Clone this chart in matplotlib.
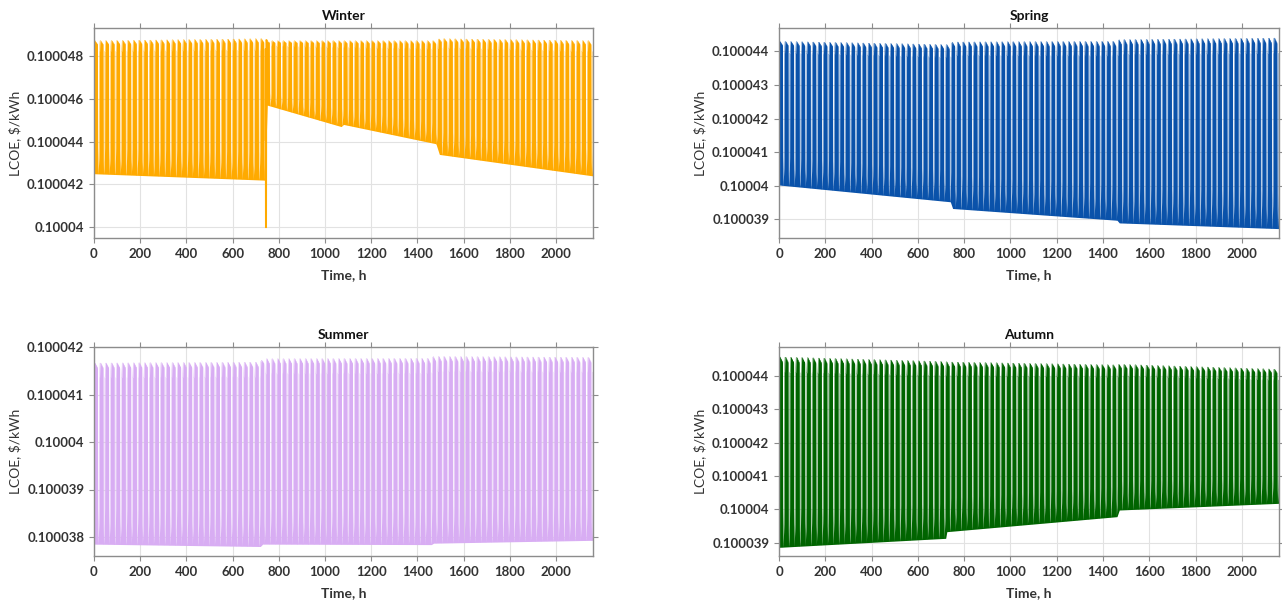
import numpy as np
import matplotlib
matplotlib.use("Agg")
import matplotlib.pyplot as plt

plt.rcParams['font.family'] = ['Lato', 'DejaVu Sans']

# hourly time axis for one season (90 days)
n_hours = 2160
hours = np.arange(n_hours)

# typical daily shape (0 = lower envelope, 1 = upper envelope)
day_shape = [0.92, 0.97, 1.0, 1.0, 1.0, 1.0, 1.0, 0.99, 0.99, 0.99, 0.99, 0.98,
             0.98, 0.98, 0.98, 0.97, 0.1, 0.0, 0.02, 0.05, 0.08, 0.12, 0.2, 0.92]

# envelope breakpoints (hour, value) per season
winter_bp_h = [0, 740, 750, 1070, 1080, 1480, 1495, 2159]
winter_hi = [0.1000487, 0.1000488, 0.1000487, 0.1000487, 0.1000487, 0.1000487, 0.1000488, 0.1000487]
winter_lo = [0.1000425, 0.1000422, 0.1000457, 0.1000447, 0.1000448, 0.1000439, 0.1000434, 0.1000424]
winter_dip_h = [744, 745]
winter_dip_v = [0.1000400, 0.1000400]

spring_bp_h = [0, 740, 750, 1460, 1470, 2159]
spring_hi = [0.1000443, 0.1000442, 0.10004428, 0.10004430, 0.10004435, 0.10004440]
spring_lo = [0.10004002, 0.10003952, 0.10003932, 0.10003897, 0.10003889, 0.10003872]

summer_bp_h = [0, 720, 730, 1460, 1470, 2159]
summer_hi = [0.10004166, 0.10004168, 0.10004175, 0.10004176, 0.1000418, 0.10004178]
summer_lo = [0.10003785, 0.1000378, 0.10003785, 0.10003784, 0.10003787, 0.10003793]

autumn_bp_h = [0, 720, 725, 1460, 1470, 2159]
autumn_hi = [0.10004457, 0.10004443, 0.10004442, 0.10004433, 0.10004435, 0.10004420]
autumn_lo = [0.10003886, 0.10003913, 0.10003933, 0.10003978, 0.10003998, 0.10004018]

seasons = ['Winter', 'Spring', 'Summer', 'Autumn']
colors = ['#FFAA00', '#0A52AA', '#D8ADF3', '#006400']
yticks = [
    [0.10004, 0.100042, 0.100044, 0.100046, 0.100048],
    [0.100039, 0.10004, 0.100041, 0.100042, 0.100043, 0.100044],
    [0.100038, 0.100039, 0.10004, 0.100041, 0.100042],
    [0.100039, 0.10004, 0.100041, 0.100042, 0.100043, 0.100044],
]
ylims = [(0.1000395, 0.1000493), (0.10003844, 0.1000447),
         (0.1000376, 0.100042), (0.1000386, 0.10004487)]
xticks = list(range(0, 2001, 200))


def build(bp_h, hi, lo):
    upper = np.interp(hours, bp_h, hi)
    lower = np.interp(hours, bp_h, lo)
    shape = np.array(day_shape)[hours % 24]
    return lower + shape * (upper - lower), lower


data = [build(winter_bp_h, winter_hi, winter_lo),
        build(spring_bp_h, spring_hi, spring_lo),
        build(summer_bp_h, summer_hi, summer_lo),
        build(autumn_bp_h, autumn_hi, autumn_lo)]
data[0][0][winter_dip_h] = winter_dip_v

W, H = 1282, 607
fig = plt.figure(figsize=(W / 100, H / 100), dpi=100)
boxes = [(94, 28, 593, 238), (779, 28, 1279, 238),
         (94, 347, 593, 556), (779, 347, 1279, 556)]

for i, name in enumerate(seasons):
    l, t, r, b = boxes[i]
    y, lower = data[i]
    ax = fig.add_axes([l / W, 1 - b / H, (r - l) / W, (b - t) / H])
    ax.fill_between(hours, lower, y, color=colors[i], lw=0)
    ax.plot(hours, y, color=colors[i], lw=0.25)
    if i == 0:
        # the single deep drop at the end of the first month
        ax.plot(hours[742:748], y[742:748], color=colors[i], lw=1.3)
    ax.set_xlim(0, n_hours)
    ax.set_ylim(*ylims[i])
    ax.set_xticks(xticks)
    ax.set_yticks(yticks[i])
    ax.set_yticklabels([('%.6f' % v).rstrip('0') for v in yticks[i]])
    ax.grid(True, color='#e2e2e2', lw=0.8)
    ax.set_axisbelow(True)
    for s in ax.spines.values():
        s.set_color('#8c8c8c')
        s.set_linewidth(1.0)
    ax.tick_params(direction='out', length=3.6, width=0.8, color='#8c8c8c',
                   top=True, right=True, labelsize=9.5, labelcolor='#333333')
    for lab in ax.get_xticklabels() + ax.get_yticklabels():
        lab.set_fontweight('bold')
    ax.set_title(name, fontsize=10, fontweight='bold', pad=6, color='#111111')
    ax.set_xlabel('Time, h', fontsize=10, fontweight='bold', color='#333333')
    ax.xaxis.set_label_coords(0.5, -0.15)
    ax.set_ylabel('LCOE, $/kWh', fontsize=10, color='#333333')
    ax.yaxis.set_label_coords(-0.145, 0.5)

fig.savefig('out.png', dpi=100)
